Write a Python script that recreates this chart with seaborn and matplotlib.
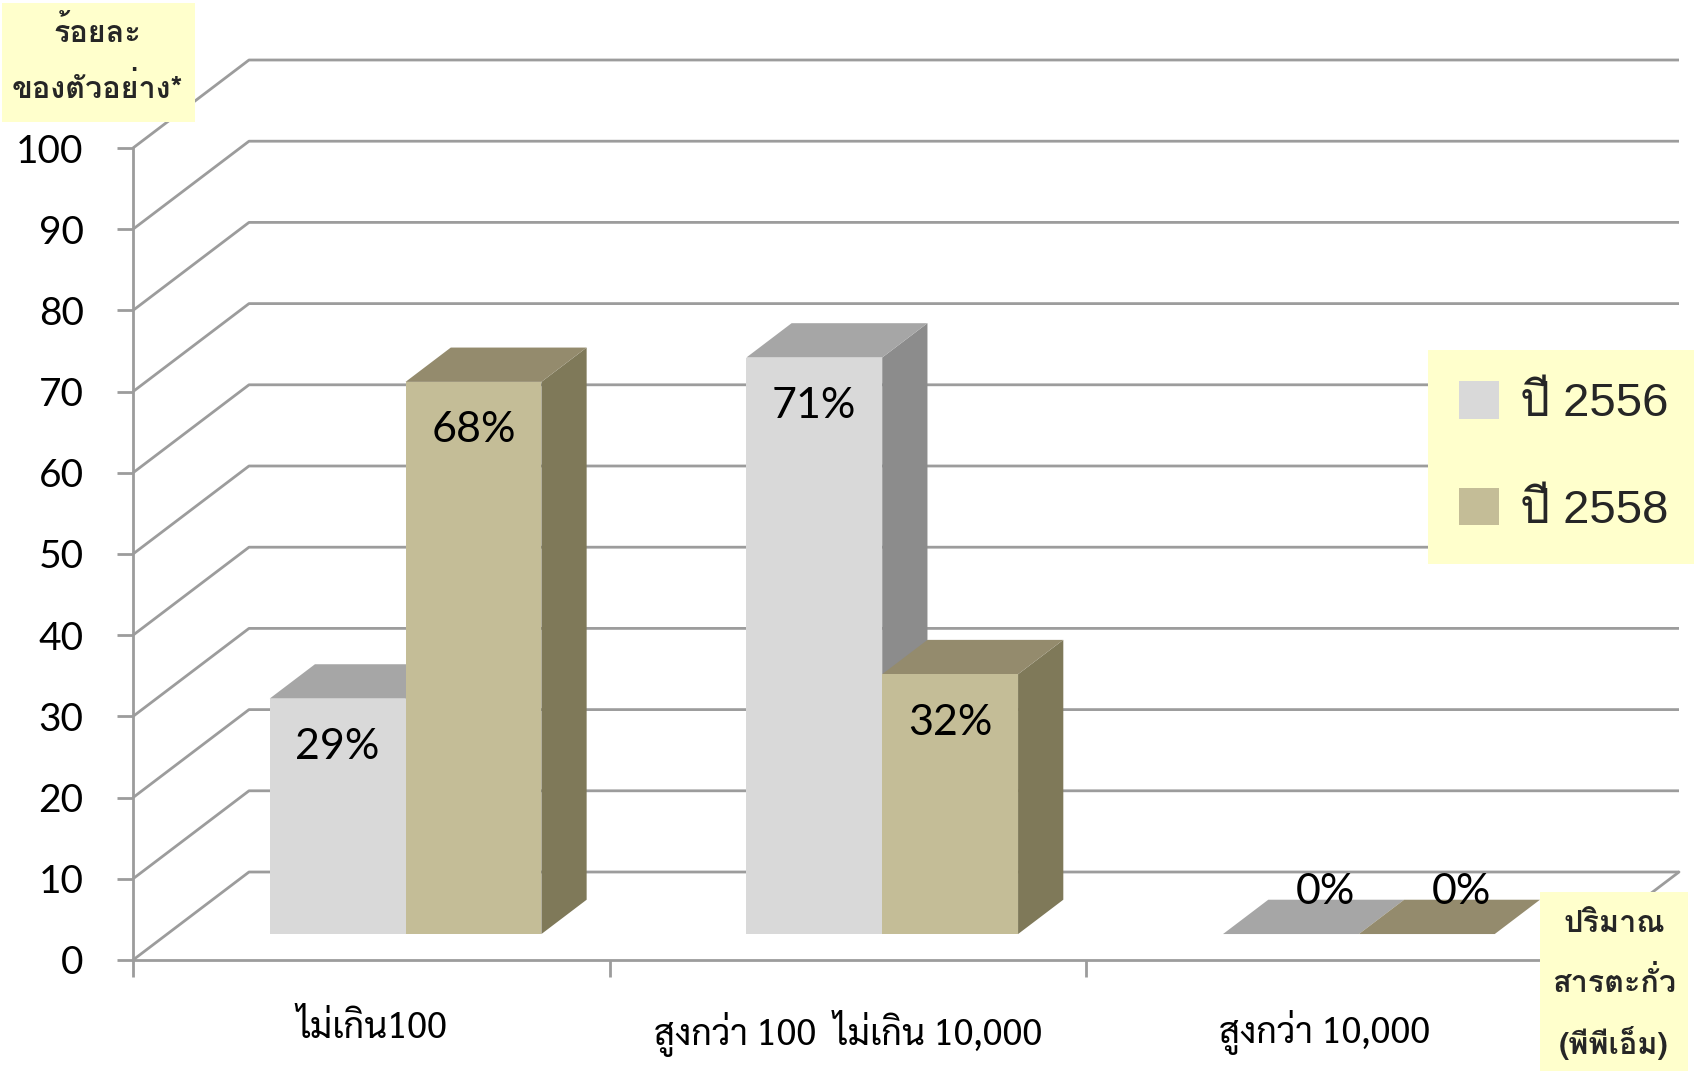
import numpy as np
import pandas as pd
import matplotlib
matplotlib.use("Agg")
import matplotlib.pyplot as plt
import matplotlib.colors as mcolors
import seaborn as sns
from matplotlib import font_manager as fm
from matplotlib.ft2font import FT2Font
from matplotlib.patches import Polygon, Rectangle, Patch

# ---------------- data ----------------
categories = ["ไม่เกิน100", "สูงกว่า 100  ไม่เกิน 10,000", "สูงกว่า 10,000"]
years = ["ปี 2556", "ปี 2558"]
values_2556 = [29, 71, 0]
values_2558 = [68, 32, 0]
yticks = list(range(0, 101, 10))
ytitle_lines = ["ร้อยละ", "ของตัวอย่าง*"]
xtitle_lines = ["ปริมาณ", "สารตะกั่ว", "(พีพีเอ็ม)"]

front_colors = ["#D9D9D9", "#C4BD97"]
top_colors = ["#A6A6A6", "#948B6D"]
side_colors = ["#8C8C8C", "#7F7959"]
grid_color = "#9C9C9C"
box_color = "#FFFFCC"

# ---------------- fonts ----------------
def find_thai_fonts():
    found = set()
    for f in fm.fontManager.ttflist:
        try:
            ft = FT2Font(f.fname)
            if ft.get_char_index(0x0E01):
                found.add(f.name)
        except Exception:
            pass
    return found

thai_found = find_thai_fonts()

def pick(cands):
    for c in cands:
        if c in thai_found:
            return c
    return sorted(thai_found)[0] if thai_found else "DejaVu Sans"

TITLE_FONT = pick(["Loma", "Waree", "Noto Sans Thai Looped", "Noto Sans Thai"])
LABEL_FONT = pick(["Sarabun", "Thasadith", "Loma"])
LEGEND_FONT = pick(["Loma", "Noto Sans Thai Looped", "Noto Sans Thai"])

sns.set_theme(style="white")
plt.rcParams["font.family"] = [TITLE_FONT, "DejaVu Sans"]

W, H = 1694, 1071
fig = plt.figure(figsize=(W / 100, H / 100), dpi=100)
fig.patch.set_facecolor("white")
ax = fig.add_axes([133 / W, (H - 960) / H, (1563 - 133) / W, (960 - 148) / H])
ax.set_facecolor("none")

df = pd.DataFrame({
    "cat": categories * 2,
    "year": [years[0]] * len(categories) + [years[1]] * len(categories),
    "value": values_2556 + values_2558,
})
sns.barplot(data=df, x="cat", y="value", hue="year", palette=front_colors,
            width=0.57, saturation=1, errorbar=None, legend=False, ax=ax,
            linewidth=0)
ax.set_xlim(-0.5, len(categories) - 0.5)
ax.set_ylim(0, 100)
ax.set_xlabel("")
ax.set_ylabel("")

# depth projection: pixel offsets converted to data units
p0 = ax.transData.transform((0, 0))
p1 = ax.transData.transform((1, 1))
ppx, ppy = p1[0] - p0[0], p1[1] - p0[1]
DEPTH_PX = (116, 88)
DX, DY = DEPTH_PX[0] / ppx, DEPTH_PX[1] / ppy
F0, FD = 0.295, 0.39

def P(x, y, d):
    return (x + d * DX, y + d * DY)

x_lo, x_hi = -0.5, len(categories) - 0.5

# back wall gridlines and floor
for v in yticks:
    pts = [P(x_lo, v, 0), P(x_lo, v, 1), P(x_hi, v, 1)]
    ax.plot(*zip(*pts), color=grid_color, lw=2.0, zorder=1, clip_on=False,
            solid_capstyle="butt")
pts = [P(x_hi, 0, 0), P(x_hi, 0, 1)]
ax.plot(*zip(*pts), color=grid_color, lw=2.0, zorder=1, clip_on=False)

# bars: seaborn rectangles pushed into depth, plus top and side faces
front_rgba = [mcolors.to_rgba(c) for c in front_colors]
bars = sorted(ax.patches, key=lambda p: p.get_x())
for k, p in enumerate(bars):
    fc = p.get_facecolor()
    hue = int(np.argmin([np.sum(np.abs(np.array(fc) - np.array(c))) for c in front_rgba]))
    x0, w, h = p.get_x(), p.get_width(), p.get_height()
    x1 = x0 + w
    z = 3 + k * 0.1
    side = Polygon([P(x1, 0, F0), P(x1, h, F0), P(x1, h, F0 + FD), P(x1, 0, F0 + FD)],
                   closed=True, fc=side_colors[hue], ec="none", zorder=z, clip_on=False)
    top = Polygon([P(x0, h, F0), P(x1, h, F0), P(x1, h, F0 + FD), P(x0, h, F0 + FD)],
                  closed=True, fc=top_colors[hue], ec="none", zorder=z, clip_on=False)
    ax.add_patch(side)
    ax.add_patch(top)
    nx, ny = P(x0, 0, F0)
    p.set_x(nx)
    p.set_y(ny)
    p.set_zorder(z + 0.05)
    p.set_clip_on(False)
    xc = x0 + w / 2
    off = (0, -35) if h > 0 else (25, 30)
    ax.annotate(f"{h:.0f}%", xy=P(xc, h, F0), xytext=off,
                textcoords="offset points", ha="center", va="center",
                fontsize=31, family=["Lato", "DejaVu Sans"], color="black",
                zorder=20)

# axes styling
for s in ["top", "right"]:
    ax.spines[s].set_visible(False)
for s in ["left", "bottom"]:
    ax.spines[s].set_color(grid_color)
    ax.spines[s].set_linewidth(2.0)
ax.set_yticks(yticks)
ax.set_yticklabels([str(v) for v in yticks], family=["Lato", "DejaVu Sans"], fontsize=28)
ax.tick_params(axis="y", which="major", left=True, length=11.5, width=2.0,
               color=grid_color, pad=24, labelcolor="black")
ax.set_xticks([x_lo + i for i in range(len(categories) + 1)])
ax.set_xticklabels([""] * (len(categories) + 1))
ax.set_xticks(range(len(categories)), minor=True)
ax.set_xticklabels(categories, minor=True, fontsize=26, family=[LABEL_FONT, "DejaVu Sans"])
ax.tick_params(axis="x", which="major", bottom=True, length=12, width=2.0,
               color=grid_color)
ax.tick_params(axis="x", which="minor", bottom=True, length=0, pad=36,
               labelcolor="black")
ax.grid(False)

# legend
handles = [Patch(facecolor=c, edgecolor="none") for c in front_colors]
leg = ax.legend(handles, years, loc="center",
                bbox_to_anchor=(1564 / W, 1 - 457 / H), bbox_transform=fig.transFigure,
                frameon=True, fancybox=False, facecolor=box_color, edgecolor="none",
                framealpha=1, prop={"family": ["Liberation Sans", LEGEND_FONT], "size": 34},
                handlelength=0.85, handleheight=0.85, handletextpad=0.45,
                labelspacing=1.3, borderpad=0.65)
leg.set_zorder(30)

# axis title boxes
def fig_box(x0, y0, x1, y1):
    fig.add_artist(Rectangle((x0 / W, 1 - y1 / H), (x1 - x0) / W, (y1 - y0) / H,
                             transform=fig.transFigure, fc=box_color, ec="none",
                             zorder=5))

fig_box(2, 3, 195, 122)
for txt, yy in zip(ytitle_lines, [32, 89]):
    fig.text(97 / W, 1 - yy / H, txt, ha="center", va="center", fontsize=22,
             fontweight="bold", family=[TITLE_FONT, "DejaVu Sans"], zorder=6)
fig_box(1540, 892, 1688, 1071)
for txt, yy in zip(xtitle_lines, [924, 983, 1043]):
    fig.text(1614 / W, 1 - yy / H, txt, ha="center", va="center", fontsize=22,
             fontweight="bold", family=[TITLE_FONT, "DejaVu Sans"], zorder=6)

fig.savefig("out.png", dpi=100, facecolor="white")
